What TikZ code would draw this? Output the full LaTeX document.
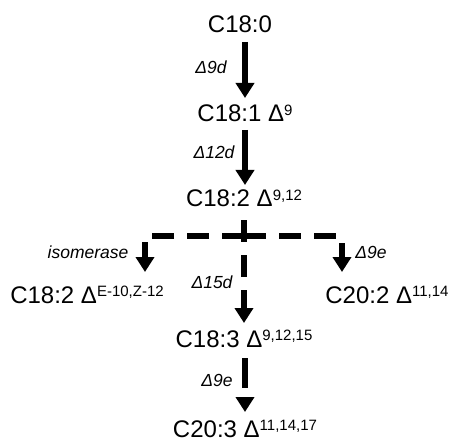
\documentclass[tikz,border=0pt]{standalone}
\usepackage{fontspec}
\setmainfont{Liberation Sans}
\usetikzlibrary{arrows.meta}

% raised index after the delta sign
\newcommand{\dpos}[1]{\raisebox{6.5pt}{\fontsize{15}{15}\selectfont #1}}

\tikzset{
  acid/.style={font=\fontsize{24}{28}\selectfont, inner sep=0pt, anchor=base},
  enz/.style={font=\fontsize{17.5}{20}\selectfont\itshape, inner sep=0pt},
  solidarr/.style={line width=6.5pt, -{Triangle[width=18pt,length=15pt]}},
  dasharr/.style={line width=6.5pt, dash pattern=on 22pt off 13pt, -{Triangle[width=18pt,length=15pt]}},
}

\begin{document}
\begin{tikzpicture}[x=1pt,y=-1pt]
\useasboundingbox (0,0) rectangle (450,441);

% fatty acids
\node[acid] (n0) at (240,33)  {C18:0};
\node[acid] (n1) at (245,122) {C18:1 Δ\dpos{9}};
\node[acid] (n2) at (244,207) {C18:2 Δ\dpos{9,12}};
\node[acid] (nL) at (87,303)  {C18:2 Δ\dpos{E-10,Z-12}};
\node[acid] (nR) at (387,303) {C20:2 Δ\dpos{11,14}};
\node[acid] (n3) at (244,347) {C18:3 Δ\dpos{9,12,15}};
\node[acid] (n4) at (245,437) {C20:3 Δ\dpos{11,14,17}};

% branch points of the dashed routes
\coordinate (j)  at (244,236);
\coordinate (cl) at (145,236);
\coordinate (cr) at (342,236);

% desaturation / elongation steps
\draw[solidarr] ([yshift=-9pt]n0.base -| n1.base) -- ([yshift=24pt]n1.base);
\draw[solidarr] ([yshift=-8pt]n1.base) -- ([yshift=22pt]n2.base -| n1.base);
\draw[dasharr] ([yshift=-13pt]n2.base) -- ([yshift=24pt]n3.base -| n2.base);
\draw[dasharr] (j) -- (cl) -- ([yshift=31pt]nL.base -| cl);
\draw[dasharr] (j) -- (cr) -- ([yshift=31pt]nR.base -| cr);
\draw[solidarr, dash pattern=on 30pt off 20pt] ([yshift=-11pt]n3.base -| n4.base) -- ([yshift=25pt]n4.base);

% enzyme labels
\node[enz] (e1) at (211,67)  {Δ9d};
\node[enz] (e2) at (214,152) {Δ12d};
\node[enz] (e3) at (88,252)  {isomerase};
\node[enz] (e4) at (371,252) {Δ9e};
\node[enz] (e5) at (212,282) {Δ15d};
\node[enz] (e6) at (217,380) {Δ9e};
\end{tikzpicture}
\end{document}
